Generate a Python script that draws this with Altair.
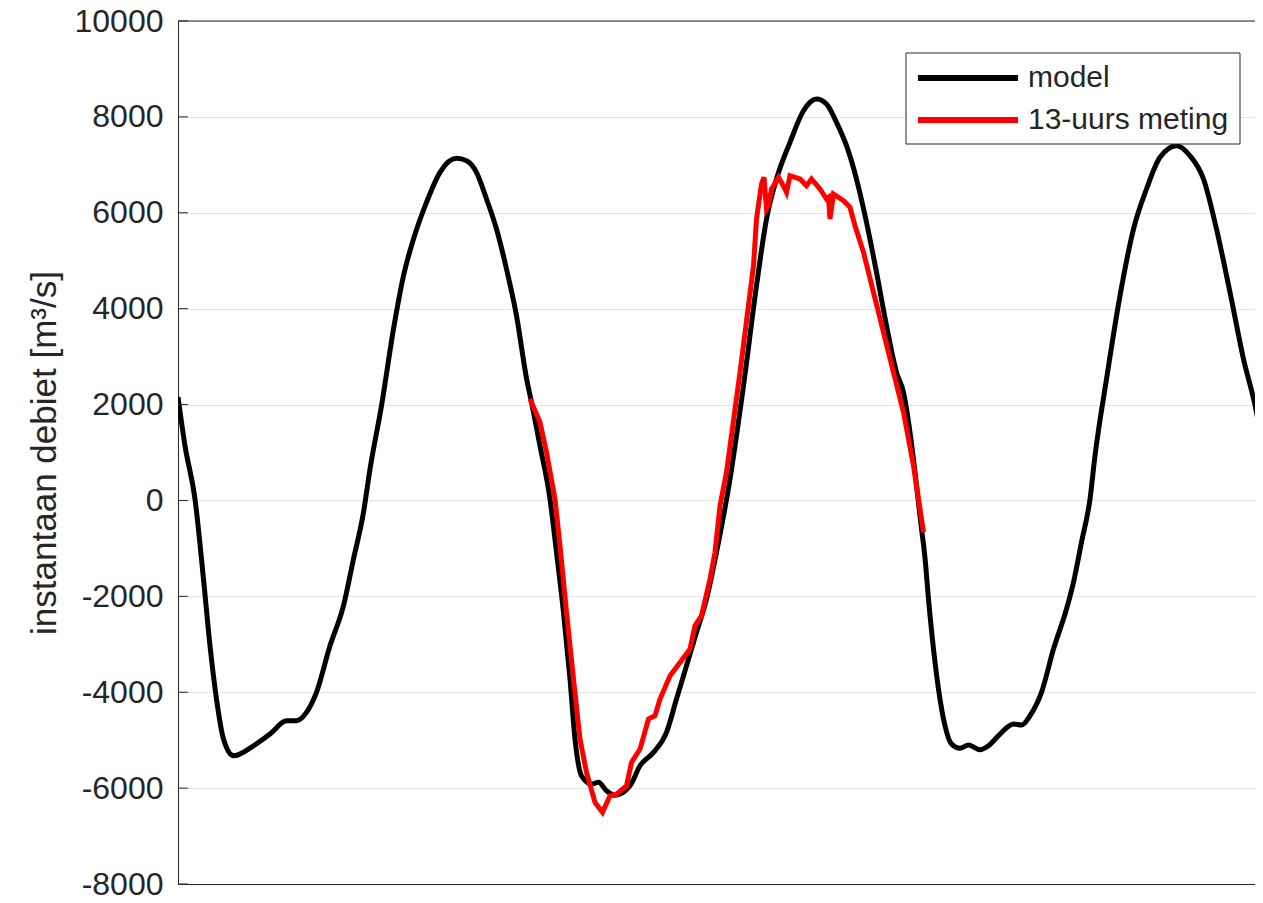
import altair as alt
import pandas as pd

# time in minutes (x axis has no labels), discharge in m3/s
model_t = [0, 14, 34, 51, 64, 77, 91, 111, 151, 184, 217, 237, 257, 277, 304, 331, 351, 371, 384,
           407, 431, 451, 471, 497, 524, 557, 577, 597, 617, 637, 657, 677, 697, 707, 724, 744,
           757, 771, 784, 794, 807, 827, 841, 857, 874, 904, 924, 951, 977, 997, 1017, 1037,
           1057, 1077, 1104, 1131, 1157, 1177, 1197, 1224, 1251, 1277, 1297, 1317, 1337, 1357,
           1377, 1397, 1417, 1437, 1451, 1464, 1486, 1494, 1501, 1511, 1521, 1534, 1547, 1564,
           1581, 1604, 1621, 1644, 1671, 1687, 1704, 1727, 1751, 1777, 1791, 1807, 1824, 1834,
           1857, 1884, 1911, 1937, 1964, 1997, 2024, 2051, 2077, 2104, 2131, 2157, 2168]
model_q = [2157, 1141, 29, -1640, -3031, -4143, -4977, -5326, -5117, -4873, -4595, -4595, -4420,
           -4003, -3031, -2196, -1222, -248, 655, 1975, 3575, 4687, 5453, 6218, 6844, 7136, 7086,
           6844, 6287, 5661, 4827, 3853, 2550, 2046, 1141, 29, -1083, -2334, -3726, -4977, -5743,
           -5916, -5880, -6056, -6150, -5951, -5534, -5255, -4838, -4143, -3448, -2752, -2057,
           -1083, 446, 2393, 4479, 5870, 6704, 7470, 8129, 8373, 8269, 7887, 7399, 6704, 5801,
           4758, 3644, 2672, 2255, 1421, -500, -1200, -2057, -3100, -3934, -4700, -5082, -5171,
           -5102, -5200, -5117, -4873, -4664, -4685, -4491, -4003, -3100, -2265, -1708, -874, 29,
           932, 2532, 4270, 5661, 6496, 7157, 7399, 7190, 6704, 5661, 4341, 2950, 1838, 1177]

meting_t = [704, 724, 737, 754, 764, 777, 791, 804, 817, 834, 849, 864, 877, 897, 907, 924, 941,
            954, 964, 984, 1004, 1024, 1034, 1047, 1064, 1074, 1084, 1097, 1124, 1151, 1157, 1167,
            1172, 1177, 1181, 1187, 1191, 1201, 1214, 1217, 1224, 1244, 1257, 1267, 1284, 1297,
            1301, 1304, 1311, 1331, 1344, 1354, 1371, 1391, 1411, 1431, 1451, 1471, 1491]
meting_q = [2115, 1629, 1003, 29, -945, -2334, -3726, -4977, -5672, -6298, -6506, -6160, -6125,
            -5951, -5463, -5186, -4560, -4491, -4143, -3657, -3378, -3100, -2614, -2405, -1640,
            -1083, -111, 586, 2672, 4896, 5870, 6600, 6740, 6079, 6148, 6496, 6565, 6740, 6496,
            6427, 6773, 6704, 6565, 6704, 6496, 6287, 6323, 5870, 6392, 6252, 6114, 5730, 5175,
            4341, 3507, 2672, 1838, 724, -665]

series_names = ["model", "13-uurs meting"]
series_colors = ["#000000", "#ff0000"]
y_ticks = [-8000, -6000, -4000, -2000, 0, 2000, 4000, 6000, 8000, 10000]

FONT = "Liberation Sans"
TXT = "#262626"
W, H = 1077, 863

df_model = pd.DataFrame({"t": model_t, "q": model_q, "serie": series_names[0]})
df_meting = pd.DataFrame({"t": meting_t, "q": meting_q, "serie": series_names[1]})
df_ticks = pd.DataFrame({"q": y_ticks})

x_enc = alt.X("t:Q", scale=alt.Scale(domain=[0, 2154], nice=False, zero=False),
              axis=alt.Axis(labels=False, ticks=False, grid=False, title=None,
                            domainColor=TXT, domainWidth=1))
y_enc = alt.Y("q:Q", scale=alt.Scale(domain=[-8000, 10000], nice=False, zero=False),
              axis=alt.Axis(values=y_ticks, labelExpr="'' + datum.value",
                            title="instantaan debiet [m³/s]",
                            labelFontSize=32, labelColor=TXT, labelFont=FONT,
                            titleFontSize=35, titleColor=TXT, titleFont=FONT,
                            titleFontWeight="normal", titlePadding=12,
                            tickSize=0, labelPadding=15, gridColor="#e3e3e3",
                            gridWidth=1, domainColor=TXT, domainWidth=1))

line_model = alt.Chart(df_model).mark_line(
    color=series_colors[0], strokeWidth=5, clip=True, interpolate="monotone").encode(
    x=x_enc, y=y_enc)
line_meting = alt.Chart(df_meting).mark_line(
    color=series_colors[1], strokeWidth=5, clip=True).encode(
    x="t:Q", y="q:Q")

# inward tick marks on the left axis
inner_ticks = alt.Chart(df_ticks).mark_rule(color=TXT, strokeWidth=1).encode(
    y="q:Q", x=alt.value(0), x2=alt.value(10))

one = pd.DataFrame({"a": [0]})
top_border = alt.Chart(one).mark_rule(color=TXT, strokeWidth=1).encode(
    x=alt.value(0), x2=alt.value(W), y=alt.value(0))

legend_box = alt.Chart(one).mark_rect(fill="white", stroke=TXT, strokeWidth=1).encode(
    x=alt.value(728), x2=alt.value(1062), y=alt.value(32), y2=alt.value(123))

layers = [line_model, line_meting, inner_ticks, top_border, legend_box]
for i, (name, col) in enumerate(zip(series_names, series_colors)):
    yy = 57 + i * 42
    layers.append(alt.Chart(one).mark_rule(color=col, strokeWidth=6).encode(
        x=alt.value(740), x2=alt.value(840), y=alt.value(yy)))
    layers.append(alt.Chart(pd.DataFrame({"label": [name]})).mark_text(
        align="left", baseline="middle", fontSize=30, font=FONT, color=TXT).encode(
        x=alt.value(850), y=alt.value(yy), text="label:N"))

chart = alt.layer(*layers).properties(
    width=W, height=H,
    autosize=alt.AutoSizeParams(type="none"),
    padding={"left": 170, "top": 13, "right": 0, "bottom": 11},
).configure_view(stroke=None).configure(font=FONT, background="white")

chart.save("out.html", embed_options={"renderer": "svg", "actions": False})
